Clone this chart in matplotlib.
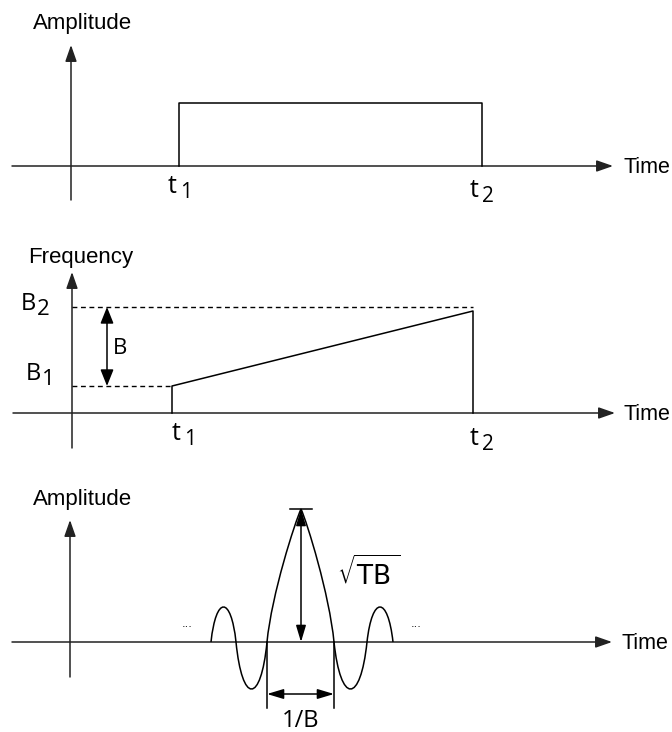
import matplotlib
matplotlib.use('Agg')
import matplotlib.pyplot as plt
from matplotlib.patches import FancyArrowPatch, PathPatch
from matplotlib.path import Path

# panel 1: rectangular transmitted pulse
pulse_t = [1.08, 4.11]        # t1, t2
pulse_amp = 0.63

# panel 2: linear FM chirp
chirp_t = [1.00, 4.01]        # t1, t2
chirp_f = [0.27, 1.02]        # frequency at t1, t2
band_f = [0.27, 1.06]         # B1, B2

# panel 3: compressed pulse, one lobe per entry
lobe_start = [1.41, 1.66, 1.97, 2.64, 2.97]
lobe_end = [1.66, 1.97, 2.64, 2.97, 3.23]
lobe_peak = [0.35, -0.47, 1.33, -0.47, 0.35]
peak_t = 2.31

W, H = 672, 732
SCALE = 100.0
LW = 1.1
LABEL_FONT = 'Liberation Sans'
SYM_FONT = 'Open Sans'

fig = plt.figure(figsize=(W / 100, H / 100), dpi=100)


def make_panel(top, bottom, ox, oy):
    ax = fig.add_axes([0, 1 - bottom / H, 1, (bottom - top) / H])
    ax.set_xlim(-ox / SCALE, (W - ox) / SCALE)
    ax.set_ylim((oy - bottom) / SCALE, (oy - top) / SCALE)
    ax.axis('off')
    return ax


def arrow(ax, p0, p1, style='-|>', hw=0.14, color='k'):
    ax.add_patch(FancyArrowPatch(p0, p1, arrowstyle=f'{style},head_length=0.4,head_width={hw}',
                                 mutation_scale=25, shrinkA=0, shrinkB=0, lw=LW, color=color))


def draw_axes(ax, xr, yr, ylabel, ylabel_pos):
    arrow(ax, (xr[0], 0), (xr[1], 0), color='#222222')
    arrow(ax, (0, yr[0]), (0, yr[1]), color='#222222')
    ax.text(5.52, -0.07, 'Time', family=LABEL_FONT, fontsize=15.5, va='baseline')
    ax.text(ylabel_pos[0], ylabel_pos[1], ylabel, family=LABEL_FONT, fontsize=16, va='baseline')


def sub_label(ax, x, y, base, sub, dx=8.5, dy=-3.5, size=18, sub_size=15):
    ax.text(x, y, base, family=SYM_FONT, fontsize=size, va='baseline')
    ax.annotate(sub, xy=(x, y), xytext=(dx, dy), textcoords='offset points',
                family=SYM_FONT, fontsize=sub_size, va='baseline')


# ---- panel 1: amplitude vs time ----
ax1 = make_panel(0, 230, 71, 166)
draw_axes(ax1, (-0.59, 5.42), (-0.34, 1.21), 'Amplitude', (-0.38, 1.37))
ax1.plot([pulse_t[0], pulse_t[0], pulse_t[1], pulse_t[1]],
         [0, pulse_amp, pulse_amp, 0], color='k', lw=LW)
sub_label(ax1, pulse_t[0] - 0.11, -0.27, 't', '1')
sub_label(ax1, pulse_t[1] - 0.12, -0.31, 't', '2')

# ---- panel 2: frequency vs time ----
ax2 = make_panel(230, 475, 72, 413)
draw_axes(ax2, (-0.59, 5.43), (-0.35, 1.41), 'Frequency', (-0.44, 1.50))
ax2.plot([chirp_t[0], chirp_t[0], chirp_t[1], chirp_t[1]],
         [0, chirp_f[0], chirp_f[1], 0], color='k', lw=LW)
ax2.plot([0, chirp_t[0]], [band_f[0], band_f[0]], color='k', lw=1.0, dashes=(3.5, 2.6))
ax2.plot([0, chirp_t[1]], [band_f[1], band_f[1]], color='k', lw=1.0, dashes=(3.5, 2.6))
arrow(ax2, (0.35, band_f[0]), (0.35, band_f[1]), style='<|-|>', hw=0.16)
ax2.text(0.41, 0.64, 'B', family=SYM_FONT, fontsize=16, va='center')
sub_label(ax2, -0.51, band_f[1] - 0.03, 'B', '2', dx=11.5, dy=-3.5, size=17, sub_size=16)
sub_label(ax2, -0.46, band_f[0] + 0.06, 'B', '1', dx=11.5, dy=-3.5, size=17, sub_size=16)
sub_label(ax2, chirp_t[0], -0.27, 't', '1')
sub_label(ax2, chirp_t[1] - 0.03, -0.32, 't', '2')

# ---- panel 3: compressed pulse ----
ax3 = make_panel(475, 732, 70, 642)
draw_axes(ax3, (-0.58, 5.42), (-0.35, 1.22), 'Amplitude', (-0.37, 1.37))

verts = [(lobe_start[0], 0)]
codes = [Path.MOVETO]
main = lobe_peak.index(max(lobe_peak))
for i, (x0, x1, h) in enumerate(zip(lobe_start, lobe_end, lobe_peak)):
    w = x1 - x0
    if i == main:
        xm = peak_t
        verts += [(x0 + 0.07 * w, 0.36 * h), (xm - 0.09 * w, 0.9 * h), (xm, h),
                  (xm + 0.09 * w, 0.9 * h), (x1 - 0.07 * w, 0.36 * h), (x1, 0)]
        codes += [Path.CURVE4] * 6
    else:
        c = 4 * h / 3
        verts += [(x0 + 0.2 * w, c), (x1 - 0.2 * w, c), (x1, 0)]
        codes += [Path.CURVE4] * 3
ax3.add_patch(PathPatch(Path(verts, codes), fill=False, lw=LW, color='k'))

h_main = max(lobe_peak)
z_left, z_right = lobe_start[main], lobe_end[main]
ax3.plot([peak_t - 0.11, peak_t + 0.11], [h_main, h_main], color='k', lw=LW)
arrow(ax3, (peak_t, 0), (peak_t, h_main), style='<|-|>', hw=0.12)
ax3.plot([z_left, z_left], [0, -0.66], color='k', lw=LW)
ax3.plot([z_right, z_right], [0, -0.66], color='k', lw=LW)
arrow(ax3, (z_left, -0.52), (z_right, -0.52), style='<|-|>', hw=0.12)
ax3.text((z_left + z_right) / 2, -0.67, '1/B', family=SYM_FONT, fontsize=17, ha='center', va='top')
ax3.text(2.67, 0.57, r'$\sqrt{\mathsf{TB}\,}$', fontsize=19, va='baseline')
ax3.text(1.17, 0.15, '...', fontsize=8, ha='center', va='baseline')
ax3.text(3.46, 0.15, '...', fontsize=8, ha='center', va='baseline')

fig.savefig('out.png', dpi=100, facecolor='white')
